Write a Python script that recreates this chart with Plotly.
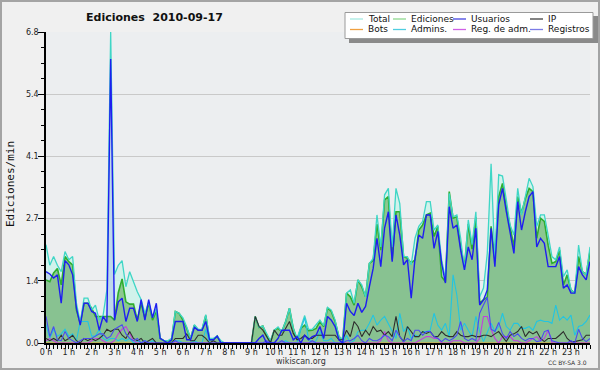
import plotly.graph_objects as go

# ---------------- data ----------------
minutes = list(range(0, 1440, 10))          # one point every 10 minutes
hour_ticks = list(range(0, 1440, 60))
hour_labels = ["0 h", "1 h", "2 h", "3 h", "4 h", "5 h", "6 h", "7 h", "8 h", "9 h",
               "10 h", "11 h", "12 h", "13 h", "14 h", "15 h", "16 h", "17 h", "18 h",
               "19 h", "20 h", "21 h", "22 h", "23 h"]
y_ticks = [0, 1.36, 2.72, 4.08, 5.44, 6.8]
y_labels = ["0.0", "1.4", "2.7", "4.1", "5.4", "6.8"]

total = [
    2.15, 1.7, 1.89, 1.7, 1.56, 2.0,  1.82, 1.89, 0.87, 0.45, 0.98, 0.98,
    0.72, 0.83, 0.5, 0.6, 1.16, 6.8,  1.5, 1.7, 1.8, 1.23, 1.56, 1.34,
    1.12, 0.95, 0.65, 0.9, 0.55, 0.75,  0.1, 0.05, 0.05, 0.1, 0.69, 0.65,
    0.55, 0.35, 0.1, 0.4, 0.3, 0.3,  0.62, 0.1, 0.1, 0.15, 0.05, 0.0,
    0, 0, 0, 0, 0, 0,  0.0, 0.58, 0.34, 0.37, 0.2, 0.05,
    0.28, 0.35, 0.25, 0.47, 0.76, 0.32,  0.1, 0.36, 0.6, 0.3, 0.3, 0.4,
    0.5, 0.38, 0.78, 0.72, 0.5, 0.14,  0.07, 1.09, 1.16, 0.87, 1.38, 1.27,
    1.01, 1.74, 1.85, 2.8, 2.1, 3.24,  3.38, 2.1, 3.38, 3.05, 1.89, 1.89,
    1.71, 2.29, 2.55, 2.66, 3.09, 3.09,  2.47, 2.58, 1.82, 1.41, 3.27, 2.76,
    2.8, 2.29, 1.6, 2.69, 2.15, 2.87,  1.01, 1.2, 1.96, 3.92, 1.82, 3.68,
    3.65, 3.13, 2.58, 2.36, 3.38, 2.8,  3.24, 3.6, 3.42, 2.55, 2.8, 2.8,
    2.36, 1.89, 1.82, 2.1, 1.45, 1.6,  1.16, 1.09, 2.14, 1.56, 1.49, 2.1]

ediciones = [
    1.38, 1.34, 1.53, 1.63, 1.27, 1.89,  1.78, 1.71, 0.72, 0.43, 0.87, 0.87,
    0.76, 0.58, 0.58, 0.58, 0.58, 0.58,  0.5, 1.1, 1.4, 0.9, 0.85, 0.85,
    0.5, 0.87, 0.55, 0.87, 0.5, 0.7,  0.1, 0.05, 0.05, 0.05, 0.69, 0.65,
    0.5, 0.32, 0.1, 0.39, 0.28, 0.28,  0.6, 0.07, 0.07, 0.15, 0.0, 0.0,
    0, 0, 0, 0, 0, 0,  0.0, 0.58, 0.34, 0.37, 0.17, 0.03,
    0.28, 0.32, 0.25, 0.47, 0.76, 0.32,  0.07, 0.32, 0.39, 0.27, 0.28, 0.32,
    0.47, 0.36, 0.76, 0.69, 0.47, 0.14,  0.07, 1.09, 1.01, 0.83, 1.38, 1.23,
    1.01, 1.74, 1.8, 2.6, 2.03, 3.13,  3.2, 1.82, 2.87, 2.87, 1.89, 1.85,
    1.75, 1.82, 2.47, 2.58, 2.8, 2.84,  2.33, 2.55, 1.45, 1.34, 3.31, 2.73,
    2.76, 2.1, 1.67, 2.6, 2.05, 2.75,  0.87, 0.95, 1.0, 2.55, 1.82, 3.2,
    3.49, 2.98, 2.51, 2.1, 3.2, 2.84,  3.16, 3.38, 3.31, 2.29, 2.73, 2.66,
    2.14, 1.74, 1.78, 2.03, 1.27, 1.49,  1.16, 1.09, 1.89, 1.56, 1.5, 2.0]

usuarios = [
    1.56, 1.51, 1.42, 1.49, 0.87, 1.8,  1.71, 1.49, 0.76, 0.39, 0.87, 0.87,
    0.69, 0.65, 0.28, 0.58, 0.45, 6.21,  0.5, 0.9, 0.98, 0.47, 0.76, 0.76,
    0.47, 0.95, 0.5, 0.95, 0.55, 0.87,  0.1, 0.05, 0.0, 0.07, 0.47, 0.47,
    0.47, 0.07, 0.07, 0.34, 0.28, 0.28,  0.47, 0.07, 0.07, 0.15, 0.0, 0.0,
    0, 0, 0, 0, 0, 0,  0, 0, 0.1, 0.17, 0, 0,
    0, 0.1, 0.28, 0.28, 0.28, 0.07,  0.14, 0, 0.17, 0.07, 0.14, 0.17,
    0.36, 0.1, 0.58, 0.5, 0.36, 0.07,  0.0, 0.87, 0.69, 0.6, 0.87, 0.67,
    0.8, 1.23, 1.63, 2.29, 1.67, 2.51,  2.87, 1.78, 2.8, 2.36, 1.71, 1.82,
    0.98, 1.85, 2.36, 2.29, 2.8, 2.8,  2.07, 2.44, 1.74, 1.31, 2.98, 2.51,
    2.58, 2.03, 1.6, 2.1, 1.82, 2.51,  0.83, 0.94, 1.16, 2.51, 1.67, 3.02,
    3.38, 2.87, 2.4, 1.96, 3.09, 2.47,  2.87, 3.2, 3.31, 2.1, 2.29, 2.18,
    1.67, 1.67, 1.67, 1.89, 1.2, 1.27,  1.09, 1.09, 1.67, 1.49, 1.38, 1.78]

ip = [
    0.1, 0.05, 0.1, 0.05, 0.17, 0.05,  0.1, 0.17, 0.05, 0.0, 0.1, 0.05,
    0.1, 0.05, 0.1, 0.17, 0.3, 0.25,  0.3, 0.3, 0.17, 0.1, 0.25, 0.1,
    0.05, 0.1, 0.0, 0.05, 0.1, 0.0,  0, 0, 0, 0, 0.1, 0.1,
    0.1, 0.2, 0.05, 0.05, 0.17, 0.17,  0.1, 0, 0.05, 0, 0, 0,
    0, 0, 0, 0, 0, 0,  0, 0.58, 0.36, 0.28, 0.14, 0.0,
    0.28, 0.17, 0.17, 0.32, 0.47, 0.21,  0.07, 0.1, 0.17, 0.1, 0.1, 0.17,
    0.17, 0.17, 0.17, 0.17, 0.17, 0.07,  0.07, 0.28, 0.14, 0.47, 0.36, 0.14,
    0.28, 0.17, 0.36, 0.25, 0.28, 0.17,  0.25, 0.14, 0.58, 0.14, 0.03, 0.36,
    0.25, 0.14, 0.14, 0.25, 0.21, 0.25,  0.14, 0.14, 0.25, 0.17, 0.14, 0.14,
    0.25, 0.17, 0.14, 0.14, 0.17, 0.14,  0.14, 0.17, 0.17, 0.14, 0.2, 0.25,
    0.14, 0.03, 0.17, 0.2, 0.25, 0.36,  0.14, 0.25, 0.2, 0.25, 0.1, 0.03,
    0.1, 0.1, 0.1, 0.17, 0.25, 0.1,  0.03, 0.03, 0.05, 0.07, 0.17, 0.17]

bots = [0.0] * 144

admins = [
    0.4, 0.1, 0.3, 0.15, 0.2, 0.3,  0.15, 0.2, 0.05, 0.47, 0.47, 0.47,
    0.15, 0.15, 0.3, 0.1, 0.05, 0.1,  0.1, 0.05, 0.1, 0.05, 0.1, 0.0,
    0.05, 0, 0.05, 0, 0.05, 0,  0, 0, 0, 0, 0.05, 0.05,
    0, 0, 0, 0.05, 0, 0,  0.3, 0, 0, 0, 0, 0,
    0, 0, 0, 0, 0, 0,  0, 0, 0, 0, 0, 0,
    0, 0, 0, 0.05, 0, 0,  0, 0.3, 0.55, 0.1, 0, 0.05,
    0.25, 0.05, 0.05, 0.1, 0.0, 0.0,  0.0, 0.17, 0.0, 0.05, 0.25, 0.28,
    0.28, 0.43, 0.61, 0.39, 0.5, 0.58,  0.43, 0.25, 0.1, 0.65, 0.25, 0.36,
    0.1, 0.17, 0.14, 0.25, 0.25, 0.28,  0.65, 0.39, 0.28, 0.43, 0.14, 1.49,
    1.05, 0.28, 0.43, 0.28, 0.14, 0.58,  0.25, 0.03, 0.25, 0.43, 0.25, 0.36,
    0.65, 0.36, 0.28, 0.43, 0.43, 0.32,  0.32, 0.36, 0.28, 0.47, 0.5, 0.47,
    0.47, 0.43, 0.83, 0.5, 0.58, 0.5,  0.61, 0.17, 0.36, 0.39, 0.47, 0.61]

reg_adm = [
    0.05, 0.1, 0.05, 0, 0, 0,  0, 0, 0, 0, 0, 0,
    0.05, 0.1, 0.1, 0.05, 0, 0,  0.05, 0.2, 0.3, 0.36, 0.2, 0.05,
    0, 0, 0, 0, 0, 0,  0, 0, 0, 0, 0, 0,
    0, 0, 0, 0, 0, 0,  0, 0, 0, 0, 0, 0,
    0, 0, 0, 0, 0, 0,  0, 0, 0, 0, 0, 0,
    0, 0, 0, 0, 0, 0,  0, 0, 0, 0, 0, 0,
    0, 0, 0, 0, 0, 0,  0, 0, 0, 0, 0, 0,
    0, 0, 0, 0, 0.05, 0.25,  0.05, 0, 0, 0, 0, 0,
    0, 0, 0.05, 0.1, 0.14, 0.14,  0.1, 0.1, 0, 0, 0, 0.05,
    0.05, 0.05, 0, 0, 0, 0,  0.1, 0.58, 0.58, 0.3, 0.1, 0,
    0.14, 0.14, 0.14, 0.05, 0.05, 0,  0, 0.05, 0.1, 0.14, 0.05, 0.1,
    0.28, 0, 0, 0, 0, 0,  0, 0, 0, 0, 0, 0]

registros = [
    0.58, 0.14, 0.36, 0.07, 0.05, 0.25,  0.1, 0.05, 0, 0.05, 0.1, 0.1,
    0.1, 0.15, 0.2, 0.2, 0.1, 0.15,  0.3, 0.35, 0.4, 0.2, 0.1, 0.05,
    0.1, 0, 0.05, 0, 0, 0,  0, 0, 0, 0, 0.05, 0,
    0, 0, 0, 0, 0, 0,  0, 0, 0, 0, 0, 0,
    0, 0, 0, 0, 0, 0,  0, 0, 0, 0, 0.05, 0,
    0, 0, 0.05, 0, 0, 0,  0, 0, 0, 0, 0.05, 0,
    0, 0, 0, 0, 0, 0,  0, 0.05, 0.05, 0.1, 0.17, 0.05,
    0, 0.1, 0.05, 0.05, 0.1, 0.17,  0.14, 0.05, 0.28, 0.14, 0.03, 0.1,
    0.05, 0.28, 0.28, 0.17, 0.25, 0.25,  0.14, 0.1, 0.03, 0.1, 0.05, 0.1,
    0.17, 0.47, 0.1, 0.05, 0.1, 0.05,  0.65, 0.83, 1.0, 0.3, 0.25, 0.45,
    0.2, 0.1, 0.25, 0.14, 0.2, 0.1,  0.05, 0.1, 0.1, 0.03, 0.05, 0.25,
    0.28, 0.05, 0.03, 0, 0, 0,  0.05, 0.0, 0.3, 0.1, 0.03, 0.1]

# series styling
line_colors = {"Total": "#3fd6c6", "Ediciones": "#2fae2f", "Usuarios": "#1e1ef0", "IP": "#2e2e2e",
               "Bots": "#f0a030", "Admins.": "#22c4e2", "Reg. de adm.": "#c23ee0", "Registros": "#4a4af2"}
swatch_colors = {"Total": "#a6e9e2", "Ediciones": "#8fd88f", "Usuarios": "#4444e0", "IP": "#404040",
                 "Bots": "#f0a040", "Admins.": "#4fcde0", "Reg. de adm.": "#d060e6", "Registros": "#7c7ce6"}

# ---------------- geometry helpers (pixels -> paper) ----------------
W, H = 600, 370
ML, MR, MT, MB = 46, 10, 32, 27
PW, PH = W - ML - MR, H - MT - MB


def px(x):
    return (x - ML) / PW


def py(y):
    return (H - MB - y) / PH


FONT = "DejaVu Sans"

fig = go.Figure()

# fills (drawn first)
fig.add_trace(go.Scatter(x=minutes, y=total, mode="lines", fill="tozeroy",
                         fillcolor="rgba(205,242,234,0.85)", line=dict(width=0),
                         showlegend=False, hoverinfo="skip"))
fig.add_trace(go.Scatter(x=minutes, y=usuarios, mode="lines", fill="tozeroy",
                         fillcolor="rgba(188,214,234,0.9)", line=dict(width=0),
                         showlegend=False, hoverinfo="skip"))
fig.add_trace(go.Scatter(x=minutes, y=ediciones, mode="lines", fill="tozeroy",
                         fillcolor="rgba(121,187,119,0.78)", line=dict(width=0),
                         showlegend=False, hoverinfo="skip"))

series = {"Total": total, "Ediciones": ediciones, "Usuarios": usuarios, "IP": ip,
          "Bots": bots, "Admins.": admins, "Reg. de adm.": reg_adm, "Registros": registros}
draw_order = ["Ediciones", "Total", "Bots", "Admins.", "Reg. de adm.", "IP", "Registros", "Usuarios"]
widths = {"Ediciones": 1.6, "Total": 1.3, "Usuarios": 1.4}
for name in draw_order:
    fig.add_trace(go.Scatter(x=minutes, y=series[name], mode="lines", name=name,
                             line=dict(color=line_colors[name], width=widths.get(name, 1.1)),
                             showlegend=False))

# ---------------- manual legend ----------------
shapes = []
annotations = []
shapes.append(dict(type="rect", xref="paper", yref="paper", x0=px(349), x1=px(598),
                   y0=py(16), y1=py(43), fillcolor="#8a8a8a", line=dict(width=0), layer="above"))
shapes.append(dict(type="rect", xref="paper", yref="paper", x0=px(345), x1=px(593),
                   y0=py(12.5), y1=py(38.5), fillcolor="white", line=dict(color="#9a9a9a", width=1),
                   layer="above"))
legend_cols = [350, 393, 453, 530]
legend_rows = [19, 29.5]
legend_layout = [["Total", "Ediciones", "Usuarios", "IP"],
                 ["Bots", "Admins.", "Reg. de adm.", "Registros"]]
for r, row in enumerate(legend_layout):
    for c, name in enumerate(row):
        x0 = legend_cols[c]
        yy = legend_rows[r]
        shapes.append(dict(type="line", xref="paper", yref="paper", x0=px(x0), x1=px(x0 + 13),
                           y0=py(yy), y1=py(yy), line=dict(color=swatch_colors[name], width=1.3),
                           layer="above"))
        annotations.append(dict(x=px(x0 + 15.5), y=py(yy), xref="paper", yref="paper", text=name,
                                showarrow=False, xanchor="left", yanchor="middle",
                                font=dict(family=FONT, size=9, color="#111")))

# outer border
shapes.append(dict(type="rect", xref="paper", yref="paper", x0=px(1), x1=px(W - 1),
                   y0=py(1), y1=py(H - 1), line=dict(color="#a4a4a4", width=2), layer="above"))

# title, axis title, footer
annotations.append(dict(x=px(154), y=py(17), xref="paper", yref="paper",
                        text="Ediciones\u00a0\u00a02010-09-17", showarrow=False,
                        xanchor="center", yanchor="middle",
                        font=dict(family=FONT, size=11, color="#111", weight="bold")))
annotations.append(dict(x=px(10), y=py(184), xref="paper", yref="paper", text="Ediciones/min",
                        showarrow=False, textangle=-90, xanchor="center", yanchor="middle",
                        font=dict(family="DejaVu Sans Mono", size=11, color="#111")))
annotations.append(dict(x=px(300.5), y=py(361.5), xref="paper", yref="paper", text="wikiscan.org",
                        showarrow=False, xanchor="center", yanchor="middle",
                        font=dict(family=FONT, size=8, color="#333")))
annotations.append(dict(x=px(589), y=py(362), xref="paper", yref="paper", text="CC BY-SA 3.0",
                        showarrow=False, xanchor="right", yanchor="middle",
                        font=dict(family=FONT, size=6, color="#333")))

fig.update_layout(
    width=W, height=H,
    margin=dict(l=ML, r=MR, t=MT, b=MB, pad=0),
    paper_bgcolor="#f0f0f0", plot_bgcolor="#eceef0",
    showlegend=False,
    hovermode=False,
    shapes=shapes, annotations=annotations,
    font=dict(family=FONT, size=8, color="#222"),
    xaxis=dict(range=[0, 1430], tickmode="array", tickvals=hour_ticks, ticktext=hour_labels,
               showgrid=False, zeroline=False, showline=True, linecolor="black", linewidth=1.5,
               ticks="outside", ticklen=4, tickwidth=1, tickcolor="black",
               ticklabelstandoff=-3,
               tickfont=dict(family=FONT, size=8, color="#222"),
               minor=dict(dtick=10, tick0=0, ticks="outside", ticklen=4, tickcolor="black",
                          tickwidth=1, showgrid=False)),
    yaxis=dict(range=[0, 6.8], tickmode="array", tickvals=y_ticks, ticktext=y_labels,
               showgrid=True, gridcolor="#c9c9c9", gridwidth=1, zeroline=False,
               showline=True, linecolor="black", linewidth=1.5,
               ticks="outside", ticklen=6, tickwidth=1, tickcolor="black",
               ticklabelstandoff=-2,
               tickfont=dict(family=FONT, size=8, color="#222"),
               minor=dict(dtick=0.34, tick0=0, ticks="outside", ticklen=3, tickcolor="black",
                          tickwidth=1, showgrid=False)),
)

fig.write_html("out.html", config={"displayModeBar": False},
               post_script="document.body.style.margin='0';")
